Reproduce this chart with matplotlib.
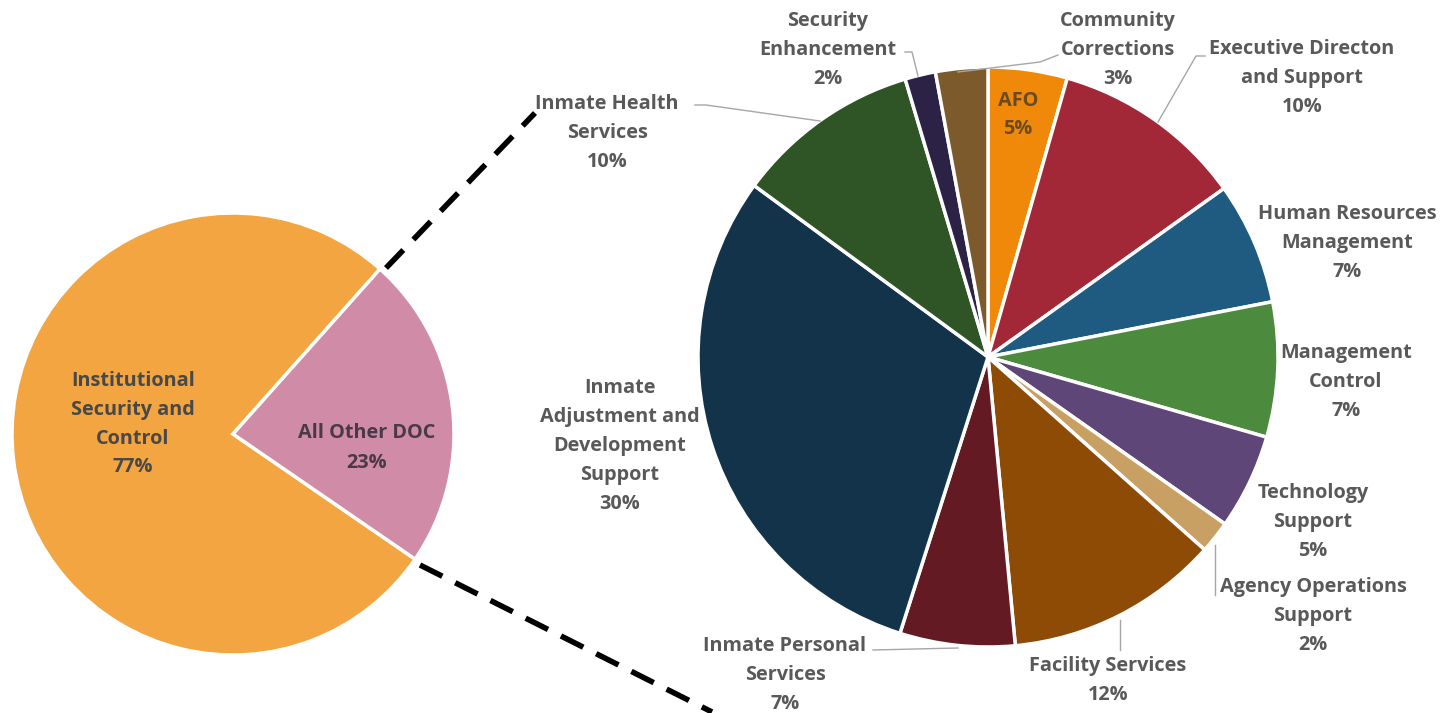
import matplotlib
matplotlib.use("Agg")
import matplotlib.pyplot as plt

# ---- data ----
left_labels = ["Institutional\nSecurity and\nControl\n77%", "All Other DOC\n23%"]
left_values = [77, 23]
left_colors = ["#F2A541", "#D08CA6"]

right_names = ["AFO", "Executive Directon\nand Support", "Human Resources\nManagement",
               "Management\nControl", "Technology\nSupport", "Agency Operations\nSupport",
               "Facility Services", "Inmate Personal\nServices",
               "Inmate\nAdjustment and\nDevelopment\nSupport", "Inmate Health\nServices",
               "Security\nEnhancement", "Community\nCorrections"]
right_values = [4.4, 10.7, 6.8, 7.5, 5.3, 1.8, 11.9, 6.4, 30.1, 10.3, 1.7, 2.9]
right_pct = ["5%", "10%", "7%", "7%", "5%", "2%", "12%", "7%", "30%", "10%", "2%", "3%"]
right_colors = ["#F0880A", "#A22838", "#1F5B80", "#4C8A3E", "#5F4678", "#C9A064",
                "#8E4B06", "#641A22", "#12334A", "#2F5527", "#2B2246", "#7D5A2C"]

W, H = 1444, 713
fig = plt.figure(figsize=(W / 100, H / 100), dpi=100)
ax = fig.add_axes([0, 0, 1, 1])

def Y(y):
    return H - y

FONT = ["Open Sans", "DejaVu Sans"]
TXT = "#595959"
FS = 14.3
LS = 1.6

# left pie
ax.pie(left_values, colors=left_colors, startangle=48.3, counterclock=True,
       center=(233, Y(434)), radius=221,
       wedgeprops=dict(edgecolor="white", linewidth=2.5))
ax.text(133, Y(424), left_labels[0], ha="center", va="center", fontsize=FS,
        fontweight="bold", color="#484848", family=FONT, linespacing=LS)
ax.text(367, Y(448), left_labels[1], ha="center", va="center", fontsize=FS,
        fontweight="bold", color="#4A3A48", family=FONT, linespacing=LS)

# right pie
ax.pie(right_values, colors=right_colors, startangle=90, counterclock=False,
       center=(988, Y(357)), radius=290,
       wedgeprops=dict(edgecolor="white", linewidth=2.5))

# label positions (image pixel coords of text block centre)
pos = [(1018, 115), (1302, 78), (1347, 243), (1346, 382), (1313, 522), (1313, 616),
       (1108, 680), (785, 675), (620, 446), (607, 133), (828, 50), (1118, 50)]
for i, (name, pct) in enumerate(zip(right_names, right_pct)):
    x, y = pos[i]
    col = "#6B4A20" if i == 0 else TXT
    ax.text(x, Y(y), name + "\n" + pct, ha="center", va="center", fontsize=FS,
            fontweight="bold", color=col, family=FONT, linespacing=LS)

# leader lines
leaders = [
    [(905, 52), (912, 52), (918, 76)],          # Security Enhancement
    [(958, 72), (1040, 62), (1058, 55)],        # Community Corrections
    [(1158, 122), (1196, 56), (1205, 56)],      # Executive
    [(1215, 545), (1215, 595)],                 # Agency Ops
    [(1120, 620), (1120, 650)],                 # Facility
    [(873, 650), (958, 648)],                   # Inmate Personal
    [(695, 105), (706, 105), (820, 121)],       # Inmate Health
]
for pts in leaders:
    xs = [p[0] for p in pts]
    ys = [Y(p[1]) for p in pts]
    ax.plot(xs, ys, color="#A6A6A6", linewidth=1.0)

# dashed connector lines
ax.plot([386, 535], [Y(268), Y(113)], color="black", linewidth=4, dashes=(4.5, 2.6))
ax.plot([420, 712], [Y(565), Y(712)], color="black", linewidth=4, dashes=(4.5, 2.6))

ax.set_xlim(0, W)
ax.set_ylim(0, H)
ax.set_aspect("equal")
ax.axis("off")
fig.savefig("out.png", dpi=100, facecolor="white")
